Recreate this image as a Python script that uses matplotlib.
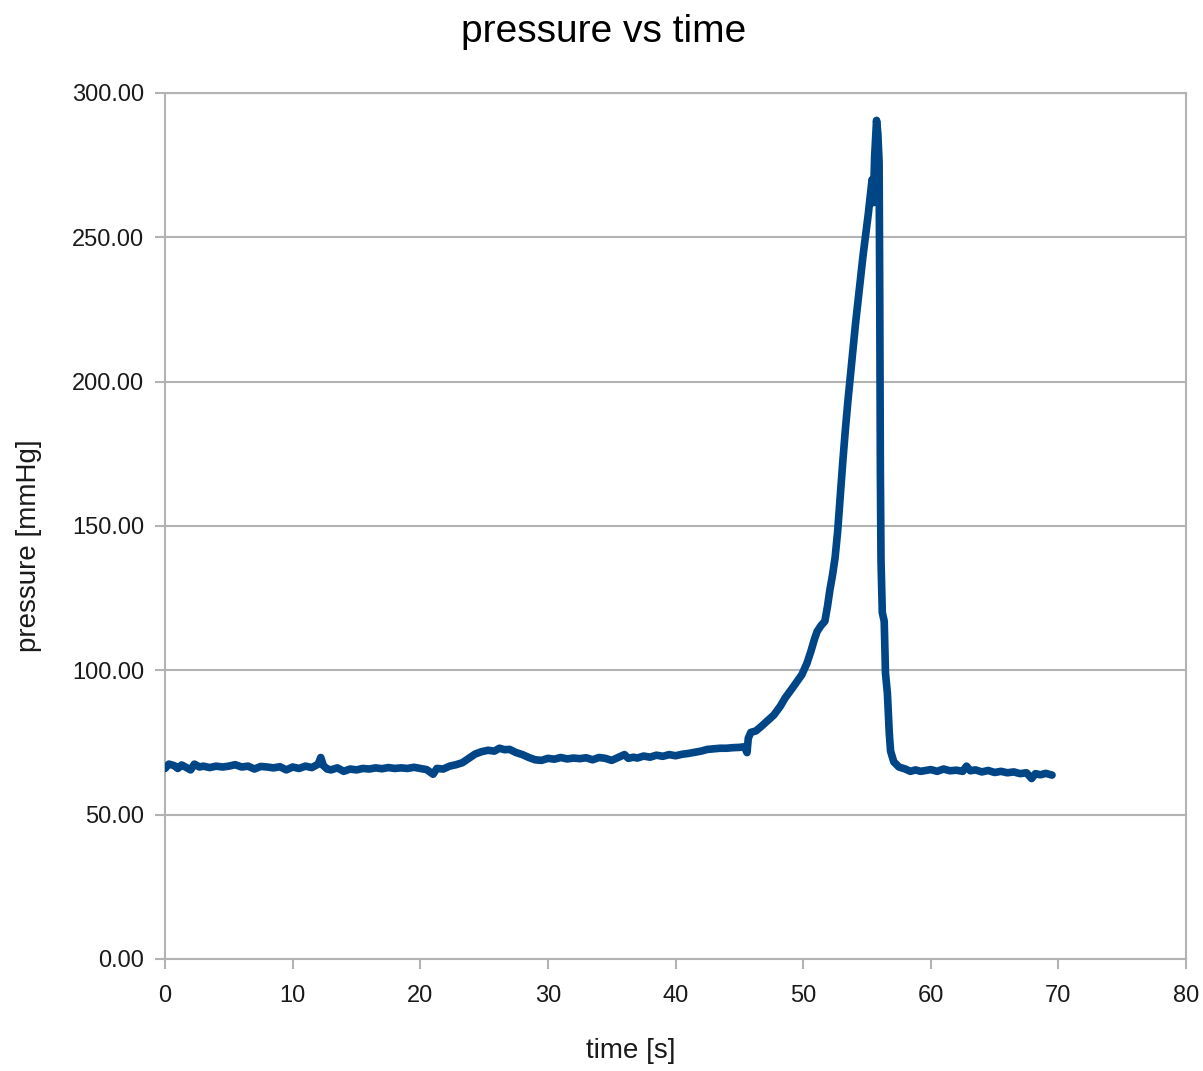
import matplotlib
matplotlib.use("Agg")
import matplotlib.pyplot as plt

time_s = [0.0, 0.3, 0.7, 1.0, 1.3, 1.6, 2.0, 2.3, 2.7, 3.0, 3.5, 4.0, 4.5, 5.0, 5.5, 6.0, 6.5, 7.0, 7.5, 8.0,
          8.5, 9.0, 9.5, 10.0, 10.5, 11.0, 11.5, 12.0, 12.2, 12.4, 12.7, 13.0, 13.5, 14.0, 14.5, 15.0, 15.5, 16.0,
          16.5, 17.0, 17.5, 18.0, 18.5, 19.0, 19.5, 20.0, 20.5, 21.0, 21.3, 21.8, 22.3, 22.8, 23.3, 23.8, 24.3,
          24.8, 25.3, 25.8, 26.2, 26.6, 27.0, 27.5, 28.0, 28.5, 29.0, 29.5, 30.0, 30.5, 31.0, 31.5, 32.0, 32.5,
          33.0, 33.5, 34.0, 34.5, 35.0, 35.5, 36.0, 36.3, 36.7, 37.0, 37.5, 38.0, 38.5, 39.0, 39.5, 40.0, 40.5,
          41.0, 41.5, 42.0, 42.5, 43.0, 43.5, 44.0, 44.5, 45.0, 45.4, 45.6, 45.7, 45.9, 46.3, 46.7, 47.2, 47.7,
          48.2, 48.6, 49.1, 49.5, 49.9, 50.3, 50.6, 50.9, 51.1, 51.4, 51.7, 51.9, 52.1, 52.3, 52.5, 52.7, 52.9,
          53.1, 53.3, 53.5, 53.7, 53.9, 54.1, 54.3, 54.5, 54.7, 54.9, 55.1, 55.25, 55.4, 55.5, 55.6, 55.75, 55.85,
          55.95, 56.0, 56.05, 56.1, 56.2, 56.35, 56.45, 56.6, 56.75, 56.85, 57.1, 57.5, 58.0, 58.4, 58.8, 59.2,
          59.6, 60.0, 60.5, 61.0, 61.5, 62.0, 62.5, 62.8, 63.1, 63.5, 64.0, 64.5, 65.0, 65.5, 66.0, 66.5, 67.0,
          67.5, 67.9, 68.2, 68.6, 69.0, 69.5]

pressure_mmhg = [66.0, 67.5, 67.0, 66.0, 67.2, 66.5, 65.5, 67.5, 66.5, 66.8, 66.3, 66.8, 66.5, 66.8, 67.3, 66.5,
                 66.8, 65.8, 66.7, 66.5, 66.2, 66.6, 65.5, 66.5, 66.0, 66.8, 66.3, 67.5, 69.8, 67.0, 65.8, 65.5,
                 66.2, 65.0, 65.8, 65.5, 66.0, 65.8, 66.2, 65.9, 66.3, 66.0, 66.2, 66.0, 66.4, 66.0, 65.6, 64.0,
                 66.0, 65.8, 66.8, 67.3, 68.0, 69.5, 71.0, 71.8, 72.3, 72.0, 73.0, 72.5, 72.6, 71.5, 70.8, 69.8,
                 69.0, 68.8, 69.5, 69.2, 69.8, 69.3, 69.6, 69.4, 69.7, 69.0, 69.8, 69.5, 68.8, 69.8, 70.8, 69.5,
                 69.9, 69.6, 70.3, 69.9, 70.6, 70.2, 70.8, 70.4, 70.9, 71.2, 71.6, 72.0, 72.6, 72.8, 73.0, 73.0,
                 73.2, 73.3, 73.5, 71.5, 76.5, 78.5, 79.0, 80.5, 82.5, 84.5, 87.5, 90.5, 93.5, 96.0, 98.5, 102.5,
                 106.5, 111.0, 113.5, 115.5, 117.0, 122.0, 128.0, 133.0, 139.0, 148.0, 160.0, 172.0, 183.0, 193.0,
                 202.0, 211.0, 220.0, 228.0, 236.0, 244.0, 251.0, 258.0, 264.0, 270.0, 262.0, 278.0, 290.5, 286.0,
                 276.0, 230.0, 168.0, 138.0, 120.0, 117.0, 99.0, 92.0, 78.0, 72.0, 68.3, 66.5, 65.8, 65.0, 65.5,
                 65.0, 65.3, 65.6, 65.0, 65.8, 65.2, 65.4, 65.0, 66.8, 65.2, 65.5, 64.8, 65.3, 64.6, 65.0, 64.5,
                 64.8, 64.2, 64.5, 62.5, 64.2, 63.8, 64.3, 63.7]

x_ticks = [0, 10, 20, 30, 40, 50, 60, 70, 80]
y_ticks = [0, 50, 100, 150, 200, 250, 300]
y_tick_labels = ["0.00", "50.00", "100.00", "150.00", "200.00", "250.00", "300.00"]

plt.rcParams['font.family'] = ['Liberation Sans', 'DejaVu Sans']

fig = plt.figure(figsize=(12.03, 10.71), dpi=100)
ax = fig.add_axes([0.1372, 0.1046, 0.8487, 0.8086])

grey = '#b3b3b3'
ax.plot(time_s, pressure_mmhg, color='#004586', linewidth=5.5, solid_joinstyle='round',
        solid_capstyle='round', zorder=3)

ax.set_xlim(0, 80)
ax.set_ylim(0, 300)
ax.set_xticks(x_ticks)
ax.set_xticklabels([str(v) for v in x_ticks])
ax.set_yticks(y_ticks)
ax.set_yticklabels(y_tick_labels)

ax.yaxis.grid(True, color=grey, linewidth=1.5)
ax.xaxis.grid(False)
for s in ax.spines.values():
    s.set_color(grey)
    s.set_linewidth(1.5)

ax.tick_params(axis='both', colors=grey, length=7, width=1.5, labelcolor='#1a1a1a', labelsize=17)
ax.tick_params(axis='x', pad=12)
ax.tick_params(axis='y', pad=8)

ax.set_xlabel('time [s]', fontsize=20, color='#1a1a1a')
ax.set_ylabel('pressure [mmHg]', fontsize=20, color='#1a1a1a')
ax.xaxis.set_label_coords(0.456, -0.091)
ax.yaxis.set_label_coords(-0.121, 0.477)

fig.text(0.502, 0.970, 'pressure vs time', ha='center', va='center', fontsize=28, color='#000000')

fig.savefig('out.png', dpi=100)
